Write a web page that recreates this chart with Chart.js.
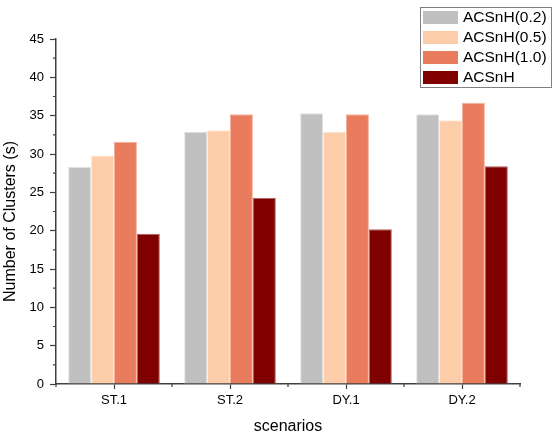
<!DOCTYPE html>
<html>
<head>
<meta charset="utf-8">
<title>Number of Clusters</title>
<script src="https://cdn.jsdelivr.net/npm/chart.js@4"></script>
<style>
  html, body { margin: 0; padding: 0; background: #fff; }
  #wrap { width: 553px; height: 436px; }
</style>
</head>
<body>
<div id="wrap"><canvas id="mixed-chart" width="553" height="436"></canvas></div>
<script>
    'use strict';

    // data
    var scenarios = ['ST.1', 'ST.2', 'DY.1', 'DY.2'];
    var acsnh02 = [28.3, 32.9, 35.3, 35.2];
    var acsnh05 = [29.8, 33.1, 32.9, 34.4];
    var acsnh10 = [31.6, 35.2, 35.2, 36.7];
    var acsnh = [19.6, 24.3, 20.2, 28.4];
    var yTicks = [0, 5, 10, 15, 20, 25, 30, 35, 40, 45];
    var yTitle = 'Number of Clusters (s)';

    var FONT = "'Liberation Sans', Arial, sans-serif";
    var AXIS = '#404040';

    //====[ PLUGINS ]=======================================

    // short minor ticks between the labelled ones
    var minorTicks = {
        id: 'minorTicks',
        afterDraw: function (chart) {
            var ctx = chart.ctx, x = chart.scales.x, y = chart.scales.y;
            ctx.save();
            ctx.strokeStyle = AXIS;
            ctx.lineWidth = 1.2;
            ctx.beginPath();
            for (var i = 0; i < yTicks.length - 1; i++) {
                var py = y.getPixelForValue(yTicks[i] + 2.5);
                ctx.moveTo(y.right - 3, py);
                ctx.lineTo(y.right, py);
            }
            for (var j = 0; j <= scenarios.length; j++) {
                var px = x.getPixelForValue(j - 0.5);
                ctx.moveTo(px, x.top);
                ctx.lineTo(px, x.top + 3);
            }
            ctx.stroke();

            // y title sits a bit below the middle of the axis in the original
            ctx.font = '16px ' + FONT;
            ctx.fillStyle = '#000';
            ctx.textAlign = 'center';
            ctx.textBaseline = 'middle';
            ctx.translate(11, (y.top + y.bottom) / 2 + 10);
            ctx.rotate(-Math.PI / 2);
            ctx.fillText(yTitle, 0, 0);
            ctx.restore();
        }
    };

    // boxed legend in the top right corner
    var boxLegend = {
        id: 'boxLegend',
        afterDraw: function (chart) {
            var ctx = chart.ctx;
            var bx = 420, by = 7, bw = 132, bh = 81;
            ctx.save();
            ctx.fillStyle = '#fff';
            ctx.fillRect(bx, by, bw, bh);
            ctx.strokeStyle = '#808080';
            ctx.lineWidth = 1;
            ctx.strokeRect(bx + 0.5, by + 0.5, bw - 1, bh - 1);
            ctx.font = '15.5px ' + FONT;
            ctx.textBaseline = 'middle';
            chart.data.datasets.forEach(function (ds, i) {
                var iy = by + 4 + i * 20;
                ctx.fillStyle = ds.backgroundColor;
                ctx.fillRect(bx + 3, iy, 35, 13);
                ctx.fillStyle = '#000';
                ctx.fillText(ds.label, bx + 43, iy + 7);
            });
            ctx.restore();
        }
    };

    new Chart(document.getElementById('mixed-chart'), {
        type: 'bar',
        data: {
            labels: scenarios,
            datasets: [{
                label: 'ACSnH(0.2)',
                backgroundColor: '#c0c0c0',
                borderColor: '#e0e0e0',
                data: acsnh02
            }, {
                label: 'ACSnH(0.5)',
                backgroundColor: '#fdcca9',
                borderColor: '#fee6d4',
                data: acsnh05
            }, {
                label: 'ACSnH(1.0)',
                backgroundColor: '#e97c5d',
                borderColor: '#f4b09c',
                data: acsnh10
            }, {
                label: 'ACSnH',
                backgroundColor: '#800000',
                borderColor: '#b06060',
                data: acsnh
            }]
        },
        options: {
            responsive: false,
            animation: false,
            layout: { padding: { top: 39, right: 33, left: 0, bottom: 0 } },
            datasets: {
                bar: {
                    categoryPercentage: 0.79,
                    barPercentage: 1.0,
                    borderWidth: 1
                }
            },
            plugins: {
                legend: { display: false },
                tooltip: { enabled: false }
            },
            scales: {
                x: {
                    offset: true,
                    afterFit: function (s) { s.height = 52; },
                    grid: {
                        offset: false,
                        drawOnChartArea: false,
                        tickLength: 5,
                        tickColor: AXIS,
                        tickWidth: 1.2
                    },
                    border: { display: true, color: AXIS, width: 1.5 },
                    ticks: {
                        color: '#000',
                        padding: 4,
                        font: { family: FONT, size: 13 }
                    },
                    title: {
                        display: true,
                        text: 'scenarios',
                        color: '#000',
                        padding: { top: 0, bottom: 0 },
                        font: { family: FONT, size: 16 }
                    }
                },
                y: {
                    min: 0,
                    max: 45,
                    afterFit: function (s) { s.width = 56; },
                    afterBuildTicks: function (s) {
                        s.ticks = yTicks.map(function (v) { return { value: v }; });
                    },
                    grid: {
                        drawOnChartArea: false,
                        tickLength: 6,
                        tickColor: AXIS,
                        tickWidth: 1.2
                    },
                    border: { display: true, color: AXIS, width: 1.5 },
                    ticks: {
                        color: '#000',
                        padding: 6,
                        font: { family: FONT, size: 13 }
                    },
                    title: { display: false }
                }
            }
        },
        plugins: [minorTicks, boxLegend]
    });
</script>
</body>
</html>
